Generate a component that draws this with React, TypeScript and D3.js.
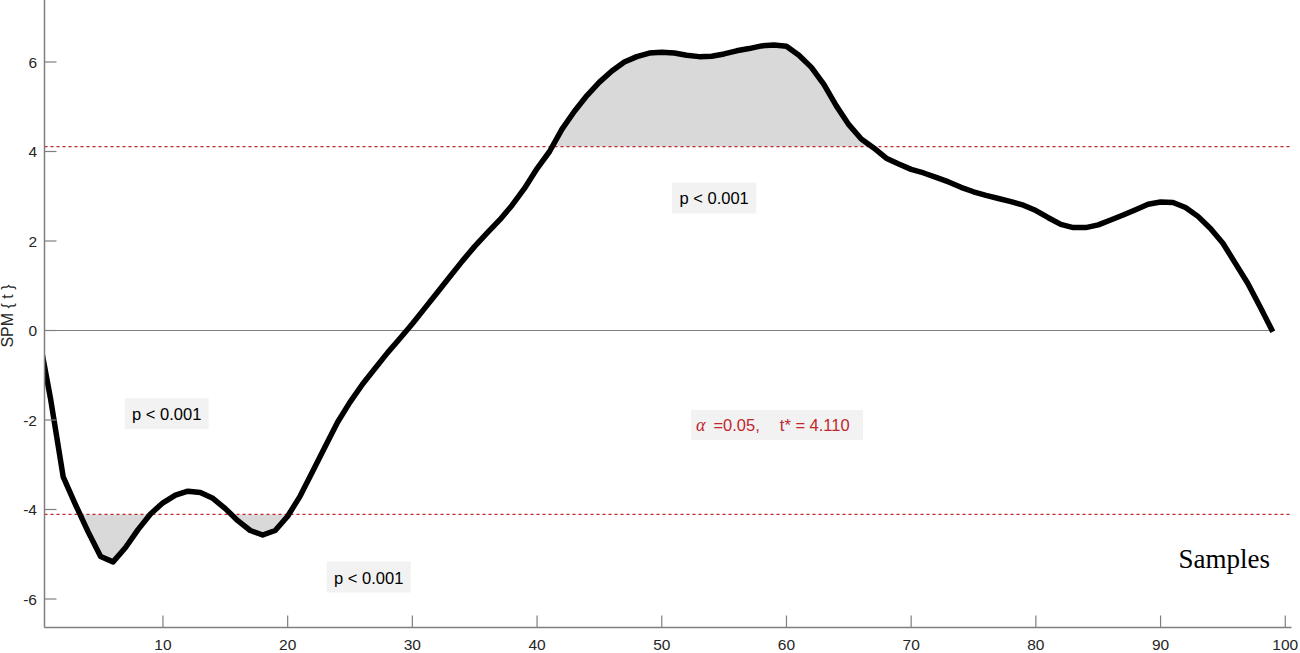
import React from "react";
import * as d3 from "d3";

const samples: number[] = Array.from({ length: 100 }, (_, i) => i);
const spmT: number[] = [
  -0.05, -1.55, -3.27, -3.9, -4.5, -5.05, -5.17, -4.85, -4.45, -4.1,
  -3.85, -3.68, -3.59, -3.62, -3.75, -3.98, -4.25, -4.47, -4.57, -4.47,
  -4.15, -3.7, -3.15, -2.6, -2.05, -1.6, -1.2, -0.85, -0.5, -0.18,
  0.15, 0.5, 0.85, 1.2, 1.55, 1.88, 2.18, 2.47, 2.8, 3.18,
  3.62, 4.0, 4.5, 4.9, 5.25, 5.55, 5.8, 6.0, 6.12, 6.2,
  6.22, 6.2, 6.15, 6.12, 6.13, 6.18, 6.25, 6.3, 6.36, 6.38,
  6.35, 6.15, 5.88, 5.5, 5.02, 4.6, 4.28, 4.08, 3.85, 3.72,
  3.6, 3.52, 3.42, 3.32, 3.2, 3.1, 3.02, 2.95, 2.88, 2.8,
  2.68, 2.52, 2.37, 2.3, 2.3, 2.36, 2.47, 2.58, 2.7, 2.82,
  2.87, 2.86, 2.75, 2.55, 2.28, 1.95, 1.5, 1.05, 0.52, -0.03,
];
const xTicks: number[] = [10, 20, 30, 40, 50, 60, 70, 80, 90, 100];
const yTicks: number[] = [-6, -4, -2, 0, 2, 4, 6];
const tStar = 4.11;
const pLabels: { x: number; y: number; text: string }[] = [
  { x: 10.3, y: -1.87, text: "p < 0.001" },
  { x: 26.5, y: -5.52, text: "p < 0.001" },
  { x: 54.2, y: 2.95, text: "p < 0.001" },
];

const W = 1300;
const H = 653;
const L = 44.5;
const R = 1291.5;
const B = 627.5;

function clusters(sign: number): [number, number][][] {
  const out: [number, number][][] = [];
  let cur: [number, number][] | null = null;
  const thr = sign * tStar;
  const above = (v: number) => sign * v > tStar;
  for (let i = 0; i < spmT.length; i++) {
    const v = spmT[i];
    if (above(v)) {
      if (!cur) {
        cur = [];
        if (i > 0) {
          const v0 = spmT[i - 1];
          const t = (thr - v0) / (v - v0);
          cur.push([samples[i - 1] + t, thr]);
        }
      }
      cur.push([samples[i], v]);
    } else if (cur) {
      const v0 = spmT[i - 1];
      const t = (thr - v0) / (v - v0);
      cur.push([samples[i - 1] + t, thr]);
      out.push(cur);
      cur = null;
    }
  }
  if (cur) out.push(cur);
  return out;
}

export default function App() {
  const x = d3.scaleLinear().domain([0.5, 100.5]).range([L, R]);
  const y = d3.scaleLinear().domain([-6, 6]).range([599, 62]);
  const line = d3
    .line<number>()
    .x((_, i) => x(samples[i]))
    .y((d) => y(d));
  const regions = [...clusters(1), ...clusters(-1)];
  const axisColor = "#7f7f7f";
  const textColor = "#262626";
  const red = "#c0272d";
  return (
    <svg
      width={W}
      height={H}
      style={{ position: "absolute", left: 0, top: 0, display: "block", background: "#fff" }}
      fontFamily="Arial, 'Liberation Sans', sans-serif"
    >
      <defs>
        <clipPath id="plotClip">
          <rect x={L} y={0} width={R - L} height={B} />
        </clipPath>
      </defs>
      <g clipPath="url(#plotClip)">
        {regions.map((r, i) => {
          const s = r[Math.floor(r.length / 2)][1] > 0 ? tStar : -tStar;
          const a = d3
            .area<[number, number]>()
            .x((d) => x(d[0]))
            .y0(() => y(s))
            .y1((d) => y(d[1]));
          return <path key={i} d={a(r) || ""} fill="#d9d9d9" stroke="none" />;
        })}
      </g>
      <line x1={L} x2={x(99)} y1={y(0)} y2={y(0)} stroke={axisColor} strokeWidth={1} />
      {[tStar, -tStar].map((t) => (
        <line
          key={t}
          x1={L}
          x2={R - 2}
          y1={y(t)}
          y2={y(t)}
          stroke={red}
          strokeWidth={1.2}
          strokeDasharray="3,3"
        />
      ))}
      <g clipPath="url(#plotClip)">
        <path
          d={line(spmT) || ""}
          fill="none"
          stroke="#000"
          strokeWidth={5.5}
          strokeLinejoin="round"
        />
      </g>
      <line x1={L} x2={L} y1={0} y2={B} stroke={axisColor} strokeWidth={1.5} />
      <line x1={L} x2={R} y1={B} y2={B} stroke={axisColor} strokeWidth={1.5} />
      {yTicks.map((t) => (
        <g key={t}>
          <line x1={L} x2={L + 12} y1={y(t)} y2={y(t)} stroke={axisColor} strokeWidth={1.2} />
          <text x={37} y={y(t) + 5.5} textAnchor="end" fontSize={15.5} fill={textColor}>
            {t}
          </text>
        </g>
      ))}
      {xTicks.map((t) => (
        <g key={t}>
          <line x1={x(t)} x2={x(t)} y1={B} y2={B - 12} stroke={axisColor} strokeWidth={1.2} />
          <text x={x(t)} y={650} textAnchor="middle" fontSize={15.5} fill={textColor}>
            {t}
          </text>
        </g>
      ))}
      <text
        transform={`translate(13, 316) rotate(-90)`}
        textAnchor="middle"
        fontSize={16}
        fill={textColor}
      >
        SPM {"{"} t {"}"}
      </text>
      <text
        x={1270}
        y={568}
        textAnchor="end"
        fontSize={27}
        fill="#000"
        fontFamily="'Liberation Serif', 'Times New Roman', serif"
      >
        Samples
      </text>
      {pLabels.map((p, i) => (
        <g key={i}>
          <rect x={x(p.x) - 42} y={y(p.y) - 16} width={84} height={31} fill="#f2f2f2" />
          <text x={x(p.x)} y={y(p.y) + 6} textAnchor="middle" fontSize={16.5} fill="#000">
            {p.text}
          </text>
        </g>
      ))}
      <rect x={691} y={410} width={172} height={30} fill="#f2f2f2" />
      <text x={696} y={431} fontSize={16.5} fill={red}>
        <tspan fontFamily="'Liberation Serif', serif" fontStyle="italic" fontSize={18}>
          α
        </tspan>
        <tspan dx={8}>=0.05,</tspan>
        <tspan dx={20}>t* = 4.110</tspan>
      </text>
    </svg>
  );
}
